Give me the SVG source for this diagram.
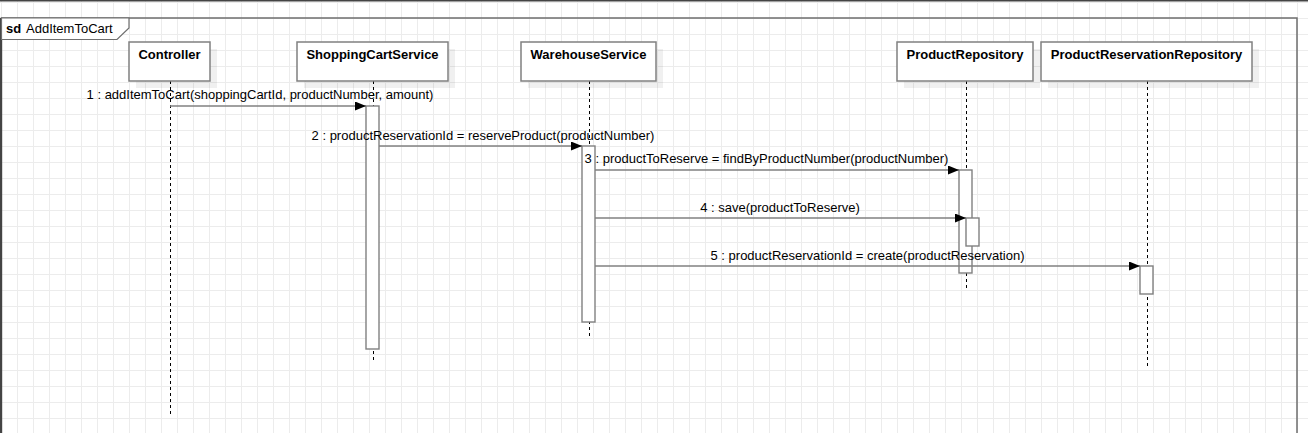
<svg xmlns="http://www.w3.org/2000/svg" width="1308" height="433" viewBox="0 0 1308 433">
<defs>
<pattern id="grid" width="16" height="16" patternUnits="userSpaceOnUse" x="1" y="2">
<path d="M0 0.5H16M0.5 0V16" stroke="#ececec" stroke-width="1" fill="none"/>
</pattern>
<marker id="arr" markerWidth="12" markerHeight="10" refX="11" refY="4.5" orient="auto" markerUnits="userSpaceOnUse">
<path d="M0,0 L11,4.5 L0,9 Z" fill="#000"/>
</marker>
<style>
.t{font-family:"Liberation Sans",Arial,sans-serif;font-size:13px;fill:#000}
.b{font-weight:bold}
.box{fill:#fff;stroke:#808080;stroke-width:1.5}
.sh{fill:#000;fill-opacity:0.06}
.ll{stroke:#000;stroke-width:1;stroke-dasharray:3 3;fill:none}
.act{fill:#fff;stroke:#808080;stroke-width:1.4}
.msg{stroke:#808080;stroke-width:1.4;fill:none;marker-end:url(#arr)}
</style>
</defs>
<rect x="0" y="0" width="1308" height="433" fill="#fff"/>
<rect x="0" y="0" width="1308" height="433" fill="url(#grid)"/>
<line x1="0" y1="0.8" x2="1308" y2="0.8" stroke="#444" stroke-width="1.6"/>
<g id="frame">
<path d="M1.5 433V18H1297V433" fill="none" stroke="#6e6e6e" stroke-width="1.5"/>
<line x1="1" y1="18" x2="1" y2="433" stroke="#444" stroke-width="2"/>
<path d="M1.5 18H129V28L117 39.5H1.5Z" fill="#fff" stroke="#6e6e6e" stroke-width="1.2"/>
<text x="6" y="33" class="t b">sd</text>
<text x="26" y="33" class="t">AddItemToCart</text>
</g>
<g id="lifelines">
<line class="ll" x1="170.5" y1="81" x2="170.5" y2="415"/>
<line class="ll" x1="373.5" y1="81" x2="373.5" y2="361"/>
<line class="ll" x1="589.5" y1="81" x2="589.5" y2="336"/>
<line class="ll" x1="966.5" y1="81" x2="966.5" y2="288"/>
<line class="ll" x1="1147.5" y1="81" x2="1147.5" y2="367"/>
</g>
<g id="Controller">
<rect class="sh" x="136" y="49" width="81" height="39"/>
<rect class="box" x="129" y="42" width="81" height="39"/>
<text x="169.5" y="59" class="t b" text-anchor="middle">Controller</text>
</g>
<g id="ShoppingCartService">
<rect class="sh" x="304" y="49" width="151" height="39"/>
<rect class="box" x="297" y="42" width="151" height="39"/>
<text x="372.5" y="59" class="t b" text-anchor="middle">ShoppingCartService</text>
</g>
<g id="WarehouseService">
<rect class="sh" x="528" y="49" width="135" height="39"/>
<rect class="box" x="521" y="42" width="135" height="39"/>
<text x="588.5" y="59" class="t b" text-anchor="middle">WarehouseService</text>
</g>
<g id="ProductRepository">
<rect class="sh" x="904" y="49" width="136" height="39"/>
<rect class="box" x="897" y="42" width="136" height="39"/>
<text x="965" y="59" class="t b" text-anchor="middle">ProductRepository</text>
</g>
<g id="ProductReservationRepository">
<rect class="sh" x="1048" y="49" width="211" height="39"/>
<rect class="box" x="1041" y="42" width="211" height="39"/>
<text x="1146.5" y="59" class="t b" text-anchor="middle">ProductReservationRepository</text>
</g>
<g id="activations">
<rect class="act" x="366" y="106" width="13" height="243"/>
<rect class="act" x="582" y="146" width="13" height="176"/>
<rect class="act" x="959" y="170" width="13" height="103"/>
<rect class="act" x="966" y="218" width="13" height="28"/>
<rect class="act" x="1140" y="266" width="13" height="28"/>
</g>
<g id="connectors">
<line class="msg" x1="170" y1="106" x2="366" y2="106"/>
<line class="msg" x1="379" y1="146" x2="582" y2="146"/>
<line class="msg" x1="595" y1="170" x2="959" y2="170"/>
<line class="msg" x1="595" y1="218" x2="966" y2="218"/>
<line class="msg" x1="595" y1="266" x2="1140" y2="266"/>
<text x="260" y="99" class="t" text-anchor="middle">1 : addItemToCart(shoppingCartId, productNumber, amount)</text>
<text x="483" y="140" class="t" text-anchor="middle">2 : productReservationId = reserveProduct(productNumber)</text>
<text x="766.5" y="163" class="t" text-anchor="middle">3 : productToReserve = findByProductNumber(productNumber)</text>
<text x="780" y="212" class="t" text-anchor="middle">4 : save(productToReserve)</text>
<text x="867.5" y="260" class="t" text-anchor="middle">5 : productReservationId = create(productReservation)</text>
</g>
</svg>
